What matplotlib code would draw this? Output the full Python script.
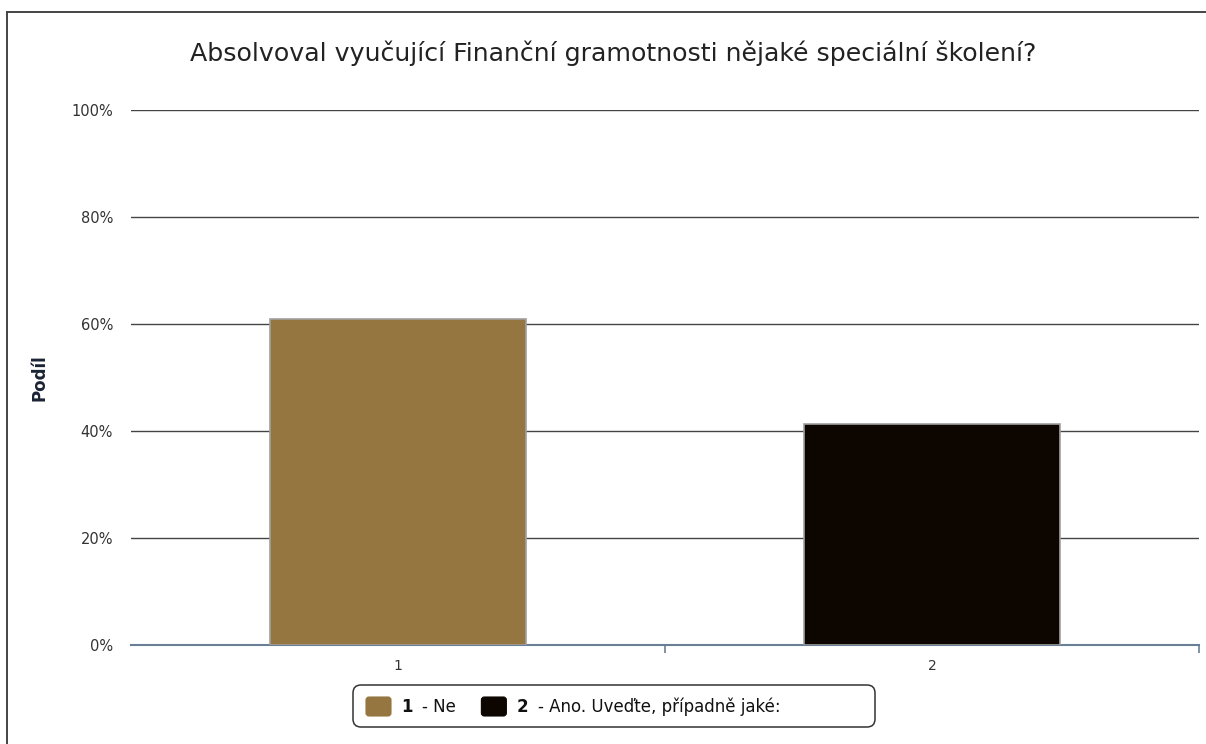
import numpy as np
import matplotlib
matplotlib.use('Agg')
import matplotlib.pyplot as plt
from matplotlib.patches import FancyBboxPatch
from matplotlib.lines import Line2D

plt.rcParams['font.family'] = ['DejaVu Sans']

categories = ['1', '2']
shares = [60.9, 41.3]
legend_names = ['Ne', 'Ano. Uveďte, případně jaké:']
bar_colors = ['#957640', '#0d0500']
y_ticks = [0, 20, 40, 60, 80, 100]

W, H = 1206, 744
fig = plt.figure(figsize=(W / 100, H / 100), dpi=100)
ax = fig.add_axes([131 / W, 1 - 645 / H, (1199 - 131) / W, (645 - 110) / H])

x = np.arange(len(categories))
ax.bar(x, shares, width=0.48, color=bar_colors, edgecolor='#a0a0a0', linewidth=1.2, zorder=3)

ax.set_xlim(-0.5, len(categories) - 0.5)
ax.set_ylim(0, 100)
ax.set_yticks(y_ticks)
ax.set_yticklabels([f'{v}%' for v in y_ticks], fontsize=10.5, color='#333333')
ax.tick_params(axis='y', length=0, pad=13)
ax.set_xticks(x)
ax.set_xticklabels(categories, fontsize=10, color='#333333')
ax.tick_params(axis='x', which='major', length=0, pad=10)
ax.set_xticks(np.arange(len(categories)) + 0.5, minor=True)
ax.tick_params(axis='x', which='minor', length=6, width=1.2, color='#6a7f95', direction='out')

ax.grid(axis='y', color='#444444', linewidth=1, zorder=0)
for s in ['top', 'right', 'left']:
    ax.spines[s].set_visible(False)
ax.spines['bottom'].set_color('#6a7f95')
ax.spines['bottom'].set_linewidth(1.5)

ax.set_ylabel('Podíl', fontsize=12, fontweight='bold', color='#1a2333', labelpad=16)

# overlay in pixel coordinates for title, frame and legend
ov = fig.add_axes([0, 0, 1, 1], zorder=5)
ov.set_xlim(0, W)
ov.set_ylim(H, 0)
ov.axis('off')
ov.patch.set_alpha(0)

ov.text(613, 53, 'Absolvoval vyučující Finanční gramotnosti nějaké speciální školení?',
        ha='center', va='center', fontsize=18.2, color='#222222')

ov.add_line(Line2D([7, 7], [12, H], color='#444444', linewidth=1.4))
ov.add_line(Line2D([7, W], [12, 12], color='#444444', linewidth=1.4))

ov.add_patch(FancyBboxPatch((353, 685), 522, 42, boxstyle='round,pad=0,rounding_size=8',
                            facecolor='white', edgecolor='#333333', linewidth=1.1))

renderer = fig.canvas.get_renderer()
cx = 366
for c, n, col in zip(categories, legend_names, bar_colors):
    ov.add_patch(FancyBboxPatch((cx, 697), 25, 19, boxstyle='round,pad=0,rounding_size=3',
                                facecolor=col, edgecolor=col, linewidth=0.8))
    t1 = ov.text(cx + 35, 706.5, c, ha='left', va='center', fontsize=12,
                 fontweight='bold', color='#111111')
    w1 = t1.get_window_extent(renderer).width
    t2 = ov.text(cx + 35 + w1 + 10, 706.5, '- ' + n, ha='left', va='center', fontsize=12,
                 color='#111111')
    w2 = t2.get_window_extent(renderer).width
    cx = cx + 35 + w1 + 10 + w2 + 25

fig.savefig('out.png', dpi=100)
